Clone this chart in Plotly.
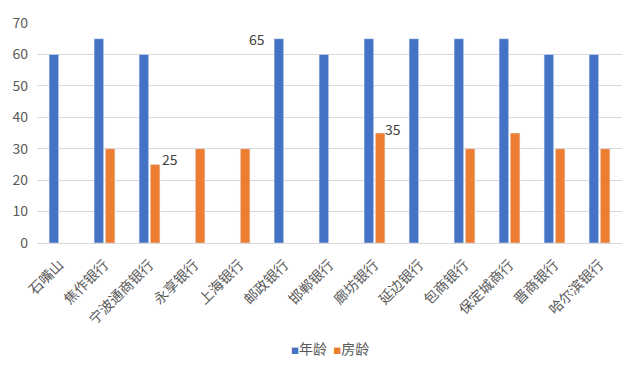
import plotly.graph_objects as go

categories = ["石嘴山", "焦作银行", "宁波通商银行", "永享银行", "上海银行", "邮政银行", "邯郸银行",
              "廊坊银行", "延边银行", "包商银行", "保定城商行", "晋商银行", "哈尔滨银行"]
age = [60, 65, 60, None, None, 65, 60, 65, 65, 65, 65, 60, 60]
house_age = [None, 30, 25, 30, 30, None, None, 35, None, 30, 35, 30, 30]
tick_vals = [0, 10, 20, 30, 40, 50, 60, 70]
series_names = ["年龄", "房龄"]
series_colors = ["#4472C4", "#ED7D31"]

FONT = "Noto Sans CJK SC"
TXT = "#595959"

fig = go.Figure()
fig.add_trace(go.Bar(name=series_names[0], x=categories, y=age, marker_color=series_colors[0],
                     showlegend=False))
fig.add_trace(go.Bar(name=series_names[1], x=categories, y=house_age, marker_color=series_colors[1],
                     showlegend=False))

annots = [
    dict(x=categories[5], y=age[5], text="65", xshift=-28, yshift=0),
    dict(x=categories[2], y=house_age[2], text="25", xshift=20, yshift=5),
    dict(x=categories[7], y=house_age[7], text="35", xshift=18, yshift=4),
]
for a in annots:
    fig.add_annotation(x=a["x"], y=a["y"], text=a["text"], showarrow=False,
                       xshift=a["xshift"], yshift=a["yshift"],
                       font=dict(family=FONT, size=14, color="#404040"))

# legend drawn as text line: ■年龄 ■房龄
legend_text = "  ".join(
    f"<span style='color:{c};font-size:8px'>■</span>{n}" for n, c in zip(series_names, series_colors)
)
fig.add_annotation(xref="paper", yref="paper", x=0.5, y=-0.476, xanchor="center", yanchor="middle",
                   text=legend_text, showarrow=False, font=dict(family=FONT, size=14, color=TXT))

fig.update_layout(
    width=640, height=376,
    margin=dict(l=36, r=18, t=18, b=133),
    paper_bgcolor="white", plot_bgcolor="white",
    barmode="group", bargap=0.5, bargroupgap=0.15,
    font=dict(family=FONT, size=14, color=TXT),
    showlegend=False,
    xaxis=dict(tickangle=-45, showgrid=False, showline=True, linecolor="#D9D9D9",
               ticks="", ticklabelstandoff=7, tickfont=dict(family=FONT, size=14, color=TXT)),
    yaxis=dict(range=[0, 70], tickvals=tick_vals, showgrid=True, gridcolor="#D9D9D9",
               zeroline=False, ticks="", ticklabelstandoff=8,
               tickfont=dict(family=FONT, size=14, color=TXT)),
)

fig.write_html("out.html", config={"displayModeBar": False},
               post_script="document.body.style.margin='0';")
